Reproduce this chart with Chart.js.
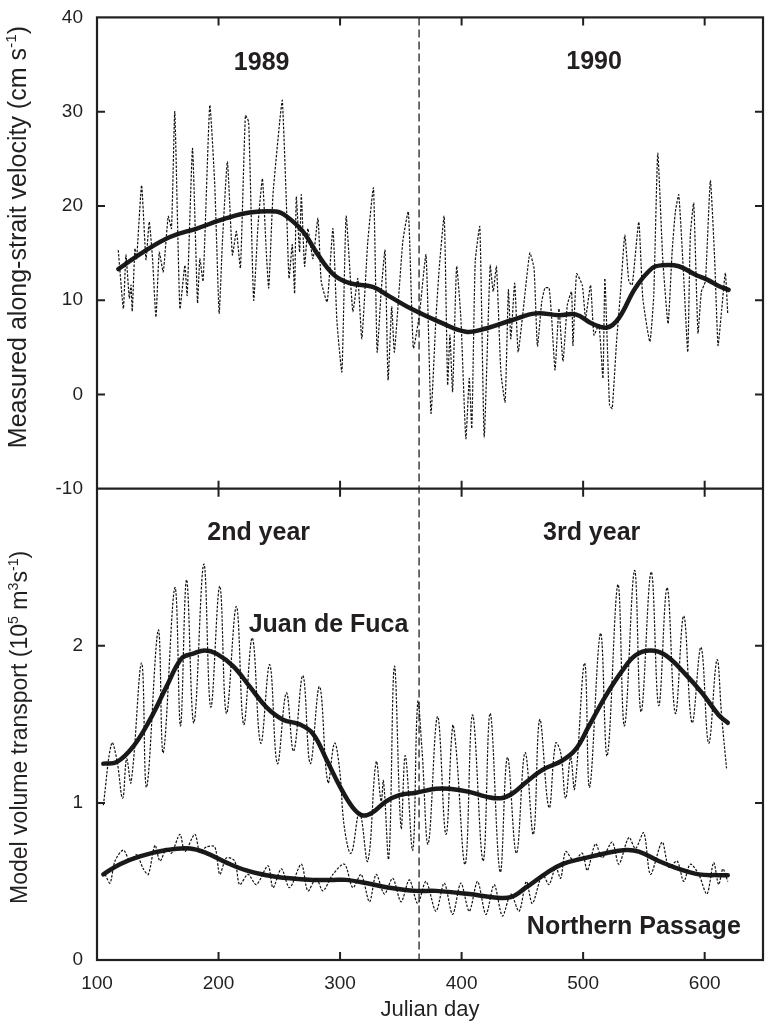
<!DOCTYPE html>
<html>
<head>
<meta charset="utf-8">
<script src="https://cdn.jsdelivr.net/npm/chart.js@4.4.0/dist/chart.umd.min.js"></script>
<style>
html, body { margin: 0; padding: 0; background: #fff; }
canvas { display: block; }
</style>
</head>
<body>
<canvas id="myChart" width="766" height="1022"></canvas>
<script>
// valeurs : [jour julien, valeur]
// panneau du haut : vitesse mesuree (cm/s)
const velRaw = [[117.5,15.3],[121.7,9.1],[123.8,14.8],[126.6,10.2],[128,11.6],[129,8.8],[131.2,15.5],[132.6,14.4],[136.7,22.2],[140.3,14.3],[143,18.3],[145.7,14.4],[148.5,8.2],[151.2,15.1],[154.5,13.0],[158.6,18.9],[161.3,17.6],[164,30.0],[168.2,9.1],[172.3,13.7],[174.2,10.5],[178.6,26.1],[182.7,9.7],[184.6,14.4],[187.3,12.0],[192.8,30.7],[196.9,22.2],[200.5,8.6],[203.2,16.2],[207.3,24.7],[211.4,14.8],[214.7,17.3],[218,13.4],[222.1,29.6],[224.8,28.9],[228.9,10.0],[232.5,18.0],[236.1,22.9],[239.3,15.1],[241.3,11.3],[244.8,21.2],[250.3,28.9],[252.5,31.2],[255.8,20.4],[258,12.3],[260.7,15.9],[262.6,10.7],[264,21.0],[266.7,15.1],[268.1,21.2],[270.8,13.6],[273.5,17.6],[277.7,14.4],[281.8,18.7],[284.5,12.0],[289.4,9.8],[294.1,17.6],[297.4,7.8],[301.5,2.4],[305,18.9],[310.5,8.8],[314.6,12.3],[317.9,5.9],[322.8,16.2],[327.5,21.9],[330.5,4.5],[333.8,10.9],[337,15.3],[339.5,1.5],[342.5,9.3],[344.7,4.5],[351.6,16.2],[356.2,19.4],[360.3,4.9],[365.2,8.4],[370.7,14.8],[374.8,-2.0],[378.9,8.1],[381.6,13.4],[385.7,18.9],[388.5,1.0],[390.4,6.3],[392.6,0.3],[395.9,13.6],[399.4,8.1],[403.5,-4.7],[406.3,1.7],[408.4,-3.6],[411.2,14.1],[415,17.8],[418.6,-4.5],[423.5,13.7],[426,10.9],[428.7,13.6],[432.3,2.4],[435.8,-0.8],[438.5,11.1],[440.5,5.9],[443.7,11.8],[446.5,4.5],[450,8.1],[456.1,15.0],[459.6,13.4],[462.4,5.1],[465.9,9.8],[468.6,11.3],[472,11.3],[474.1,8.1],[476.9,2.6],[480.1,9.1],[483.4,3.5],[487,9.5],[490.5,10.9],[491.6,5.2],[494.6,12.8],[499.3,11.6],[502,8.1],[506.1,11.6],[508.9,6.3],[513,7.4],[516.3,1.7],[517.9,12.3],[521.7,-1.1],[523.9,-1.5],[527.5,5.6],[530.8,10.9],[534.3,16.9],[537.6,12.0],[540.4,11.6],[545.8,18.3],[549.1,10.2],[554.9,5.6],[558.1,10.5],[561.4,25.6],[565.5,14.4],[569.9,7.5],[573.2,15.1],[575.9,19.4],[578.7,21.2],[582.8,12.3],[586.1,4.5],[588.2,16.9],[591,20.3],[594.5,6.5],[597.3,10.9],[600.6,12.0],[604.7,22.7],[608.2,14.4],[611,5.2],[614,9.0],[617,12.9],[619,8.5]];
const velSmooth = [[117.5,13.3],[138,15.1],[160,16.7],[182,17.6],[206.5,18.7],[225.7,19.3],[247.5,19.4],[255.8,18.9],[269.4,17.3],[280.4,15.1],[294,12.8],[307.8,11.8],[326.9,11.4],[340.6,10.4],[359.8,9.0],[381.6,7.7],[403.5,6.65],[420,7.0],[441.8,7.9],[461,8.6],[480.2,8.4],[493.8,8.5],[507.5,7.5],[519.8,7.1],[529.4,8.1],[543,11.3],[556.8,13.4],[565,13.7],[578.7,13.6],[592.4,12.7],[603.3,12.1],[611.5,11.5],[619.7,11.1]];
// panneau du bas : transport modele (10^5 m3/s)
const jdfRaw = [[105.2,0.985],[112.1,1.38],[116.2,1.28],[121.1,1.03],[124.4,1.28],[128,1.13],[136.7,1.89],[140.8,1.10],[150.4,2.10],[154.5,1.32],[164.1,2.37],[168.7,1.49],[173.7,2.42],[179.7,1.51],[187.9,2.52],[193.6,1.61],[201,2.38],[206.5,1.57],[214.7,2.25],[220.7,1.50],[227.8,2.05],[234.7,1.38],[242.1,1.88],[248.4,1.25],[255.8,1.70],[261.8,1.33],[269.4,1.81],[275.5,1.25],[283.1,1.74],[290,1.13],[295.4,1.38],[299.5,1.22],[303.6,0.84],[309.1,0.68],[316,0.94],[322.8,0.63],[329.7,1.26],[333.8,1.01],[335.7,1.14],[340.1,0.65],[344.7,1.87],[350.2,0.84],[353.7,1.30],[359.8,0.70],[363.9,1.64],[367.4,1.34],[372.5,0.74],[380.2,1.55],[387.1,0.80],[392.6,1.49],[395.3,1.36],[403,0.61],[409,1.56],[417.7,0.63],[423.5,1.57],[431.7,0.56],[437.7,1.29],[445.1,0.68],[452.2,1.32],[459.1,0.80],[464.3,1.53],[471.9,0.97],[477.4,1.38],[481.5,1.32],[485.6,1.03],[489.7,1.29],[493,1.09],[501.2,1.89],[505.3,1.10],[514.3,2.08],[519.8,1.30],[528.6,2.39],[534,1.49],[542.3,2.48],[547.7,1.58],[556,2.47],[562.2,1.62],[569.1,2.37],[575.9,1.57],[582.8,2.19],[589.6,1.51],[597,1.99],[603.3,1.38],[610.1,1.91],[614,1.55],[618,1.22]];
const jdfSmooth = [[105.2,1.25],[116.2,1.26],[129.9,1.36],[143.6,1.53],[157.2,1.74],[169.6,1.92],[179.1,1.95],[188.7,1.97],[198.3,1.95],[212,1.87],[225.7,1.74],[239.3,1.61],[253,1.53],[266.7,1.50],[277.7,1.44],[288.6,1.28],[299.5,1.11],[310.5,0.97],[318.7,0.92],[326.9,0.94],[337.9,1.01],[348.8,1.05],[362.5,1.065],[378.9,1.09],[389.8,1.09],[406.3,1.07],[420,1.04],[432.3,1.03],[441.8,1.06],[452.8,1.13],[466.5,1.21],[482.9,1.27],[493.8,1.34],[504.8,1.49],[518.5,1.68],[532.1,1.84],[543.1,1.94],[555.4,1.97],[567.7,1.94],[584.1,1.82],[597.8,1.70],[611.5,1.56],[619,1.51]];
const npRaw = [[106.6,0.545],[110.7,0.49],[114.8,0.63],[121.7,0.70],[127.1,0.63],[132.6,0.67],[138.1,0.58],[142.2,0.545],[147.7,0.73],[151.8,0.63],[157.2,0.71],[161.3,0.68],[168.2,0.80],[172.3,0.69],[180.5,0.80],[184.6,0.69],[190.1,0.72],[196.9,0.72],[201,0.545],[206.5,0.65],[213.3,0.63],[217.4,0.48],[224.3,0.545],[231.1,0.48],[240.7,0.60],[244.8,0.46],[251.7,0.58],[258.5,0.46],[268.1,0.61],[273.5,0.44],[280.4,0.52],[285.9,0.44],[294.1,0.545],[303.6,0.61],[310.5,0.46],[317.3,0.545],[324.2,0.37],[329.7,0.545],[336.5,0.42],[343.3,0.52],[350.2,0.37],[357,0.51],[363.9,0.36],[370.7,0.50],[378.9,0.31],[385.7,0.49],[392.6,0.29],[399.4,0.49],[406.3,0.31],[413.1,0.50],[420,0.29],[426.8,0.48],[433.6,0.28],[440.5,0.42],[447.3,0.31],[453.3,0.50],[458.2,0.36],[466.5,0.545],[471.9,0.48],[477.4,0.59],[481.5,0.52],[485.6,0.69],[492.5,0.63],[499.3,0.68],[503.4,0.57],[510.2,0.74],[515.7,0.65],[523.9,0.75],[529.4,0.61],[537.6,0.78],[543.1,0.71],[549.9,0.81],[555.4,0.545],[565,0.75],[570.5,0.59],[577.3,0.63],[582.8,0.50],[588.2,0.61],[595.1,0.545],[601.9,0.42],[607.4,0.62],[611.5,0.48],[615,0.58],[619,0.50]];
const npSmooth = [[105.2,0.545],[118.9,0.61],[135.3,0.66],[157.2,0.70],[176.4,0.71],[190.1,0.68],[206.5,0.62],[222.9,0.57],[239.3,0.54],[258.5,0.52],[277.7,0.51],[294.1,0.51],[305,0.51],[321.4,0.49],[340.6,0.46],[362.5,0.44],[378.9,0.44],[406.3,0.42],[425.4,0.40],[440.5,0.40],[452.8,0.46],[469.2,0.55],[482.9,0.61],[502,0.65],[518.5,0.68],[534.9,0.70],[545.8,0.69],[562.2,0.63],[578.7,0.58],[595.1,0.545],[611.5,0.54],[619,0.54]];
// axes
const xTicks = [100, 200, 300, 400, 500, 600];
const velTicks = [-10, 0, 10, 20, 30, 40];
const transTicks = [0, 1, 2];
const yearBreak = 365;
// etiquettes : [texte, jour, valeur]
const velLabels = [["1989", 235.5, 35.1], ["1990", 509, 35.3]];
const transLabels = [["2nd year", 233, 2.72], ["3rd year", 507, 2.72], ["Juan de Fuca", 290.5, 2.13], ["Northern Passage", 541.7, 0.21]];

const ink = "#231f20";
const fontFam = "'Liberation Sans', Arial, Helvetica, sans-serif";

function pts(arr) {
  return arr.map(function (p) { return { x: p[0], y: p[1] }; });
}

// titre vertical avec exposants
function drawVTitle(ctx, parts, bx, cy, size) {
  let total = 0;
  parts.forEach(function (p) {
    ctx.font = (p.sup ? size * 0.62 : size) + "px " + fontFam;
    p.w = ctx.measureText(p.t).width;
    total += p.w;
  });
  ctx.save();
  ctx.translate(bx, cy);
  ctx.rotate(-Math.PI / 2);
  ctx.fillStyle = ink;
  ctx.textBaseline = "alphabetic";
  ctx.textAlign = "left";
  let xx = -total / 2;
  parts.forEach(function (p) {
    ctx.font = (p.sup ? size * 0.62 : size) + "px " + fontFam;
    ctx.fillText(p.t, xx, p.sup ? -size * 0.4 : 0);
    xx += p.w;
  });
  ctx.restore();
}

const decor = {
  id: "decor",
  beforeDatasetsDraw(chart) {
    const ctx = chart.ctx;
    const a = chart.chartArea;
    const xp = chart.scales.x.getPixelForValue(yearBreak);
    ctx.save();
    ctx.strokeStyle = ink;
    ctx.lineWidth = 1.3;
    ctx.setLineDash([8, 4]);
    ctx.beginPath();
    ctx.moveTo(xp, a.top);
    ctx.lineTo(xp, a.bottom);
    ctx.stroke();
    ctx.restore();
  },
  afterDatasetsDraw(chart) {
    const ctx = chart.ctx;
    const a = chart.chartArea;
    const sx = chart.scales.x;
    const yT = chart.scales.yTop;
    const yB = chart.scales.yBot;
    const mid = yT.getPixelForValue(-10);
    const tl = 8;
    ctx.save();
    ctx.strokeStyle = ink;
    ctx.lineWidth = 2.2;
    ctx.strokeRect(a.left, a.top, a.right - a.left, a.bottom - a.top);
    ctx.beginPath();
    ctx.moveTo(a.left, mid);
    ctx.lineTo(a.right, mid);
    ctx.stroke();
    ctx.lineWidth = 2;
    ctx.beginPath();
    xTicks.forEach(function (v) {
      const px = sx.getPixelForValue(v);
      if (px <= a.left + 1) return;
      ctx.moveTo(px, a.top); ctx.lineTo(px, a.top + tl);
      ctx.moveTo(px, mid - tl); ctx.lineTo(px, mid + tl);
      ctx.moveTo(px, a.bottom); ctx.lineTo(px, a.bottom - tl);
    });
    velTicks.forEach(function (v) {
      if (v === 40 || v === -10) return;
      const py = yT.getPixelForValue(v);
      ctx.moveTo(a.left, py); ctx.lineTo(a.left + tl, py);
      ctx.moveTo(a.right, py); ctx.lineTo(a.right - tl, py);
    });
    transTicks.forEach(function (v) {
      if (v === 0) return;
      const py = yB.getPixelForValue(v);
      ctx.moveTo(a.left, py); ctx.lineTo(a.left + tl, py);
      ctx.moveTo(a.right, py); ctx.lineTo(a.right - tl, py);
    });
    ctx.stroke();

    ctx.fillStyle = ink;
    ctx.font = "bold 25px " + fontFam;
    ctx.textAlign = "center";
    ctx.textBaseline = "middle";
    velLabels.forEach(function (l) {
      ctx.fillText(l[0], sx.getPixelForValue(l[1]), yT.getPixelForValue(l[2]));
    });
    transLabels.forEach(function (l) {
      ctx.fillText(l[0], sx.getPixelForValue(l[1]), yB.getPixelForValue(l[2]));
    });

    ctx.font = "22px " + fontFam;
    ctx.textBaseline = "alphabetic";
    ctx.fillText("Julian day", (a.left + a.right) / 2, 1016);
    ctx.restore();

    drawVTitle(ctx, [{ t: "Measured along-strait velocity (cm s" }, { t: "-1", sup: true }, { t: ")" }],
      26, (yT.top + yT.bottom) / 2 - 16, 25);
    drawVTitle(ctx, [{ t: "Model volume transport (10" }, { t: "5", sup: true }, { t: " m" }, { t: "3", sup: true }, { t: "s" }, { t: "-1", sup: true }, { t: ")" }],
      27, (yB.top + yB.bottom) / 2 + 3, 23);
  }
};

function rawSet(arr, axis, tension) {
  return { data: pts(arr), yAxisID: axis, borderColor: "#111111", borderWidth: 1.2, borderDash: [2.5, 1.5], pointRadius: 0, tension: tension, fill: false };
}
function smoothSet(arr, axis) {
  return { data: pts(arr), yAxisID: axis, borderColor: "#1a1a1a", borderWidth: 4.5, pointRadius: 0, tension: 0.4, fill: false, borderCapStyle: "round", borderJoinStyle: "round" };
}
function tickFont() {
  return { family: fontFam, size: 19 };
}

const myChart = new Chart(document.getElementById("myChart").getContext("2d"), {
  type: "line",
  data: {
    datasets: [
      rawSet(velRaw, "yTop", 0.15),
      rawSet(jdfRaw, "yBot", 0.4),
      rawSet(npRaw, "yBot", 0.3),
      smoothSet(velSmooth, "yTop"),
      smoothSet(jdfSmooth, "yBot"),
      smoothSet(npSmooth, "yBot"),
    ],
  },
  options: {
    responsive: false,
    animation: false,
    events: [],
    layout: { padding: { top: 13, right: 3, left: 0, bottom: 0 } },
    plugins: { legend: { display: false }, tooltip: { enabled: false } },
    scales: {
      x: {
        type: "linear", min: 100, max: 648,
        grid: { display: false }, border: { display: false },
        ticks: { color: ink, font: tickFont(), padding: 4, maxRotation: 0 },
        afterBuildTicks: function (s) { s.ticks = xTicks.map(function (v) { return { value: v }; }); },
        afterFit: function (s) { s.height = 62; },
      },
      yBot: {
        type: "linear", position: "left", stack: "panels", stackWeight: 1, min: 0, max: 3,
        grid: { display: false }, border: { display: false },
        ticks: { color: ink, font: tickFont(), padding: 6 },
        afterBuildTicks: function (s) { s.ticks = transTicks.map(function (v) { return { value: v }; }); },
        afterFit: function (s) { s.width = 97; },
      },
      yTop: {
        type: "linear", position: "left", stack: "panels", stackWeight: 1, min: -10, max: 40,
        grid: { display: false }, border: { display: false },
        ticks: { color: ink, font: tickFont(), padding: 6 },
        afterBuildTicks: function (s) { s.ticks = velTicks.map(function (v) { return { value: v }; }); },
        afterFit: function (s) { s.width = 97; },
      },
    },
  },
  plugins: [decor],
});
</script>
</body>
</html>
